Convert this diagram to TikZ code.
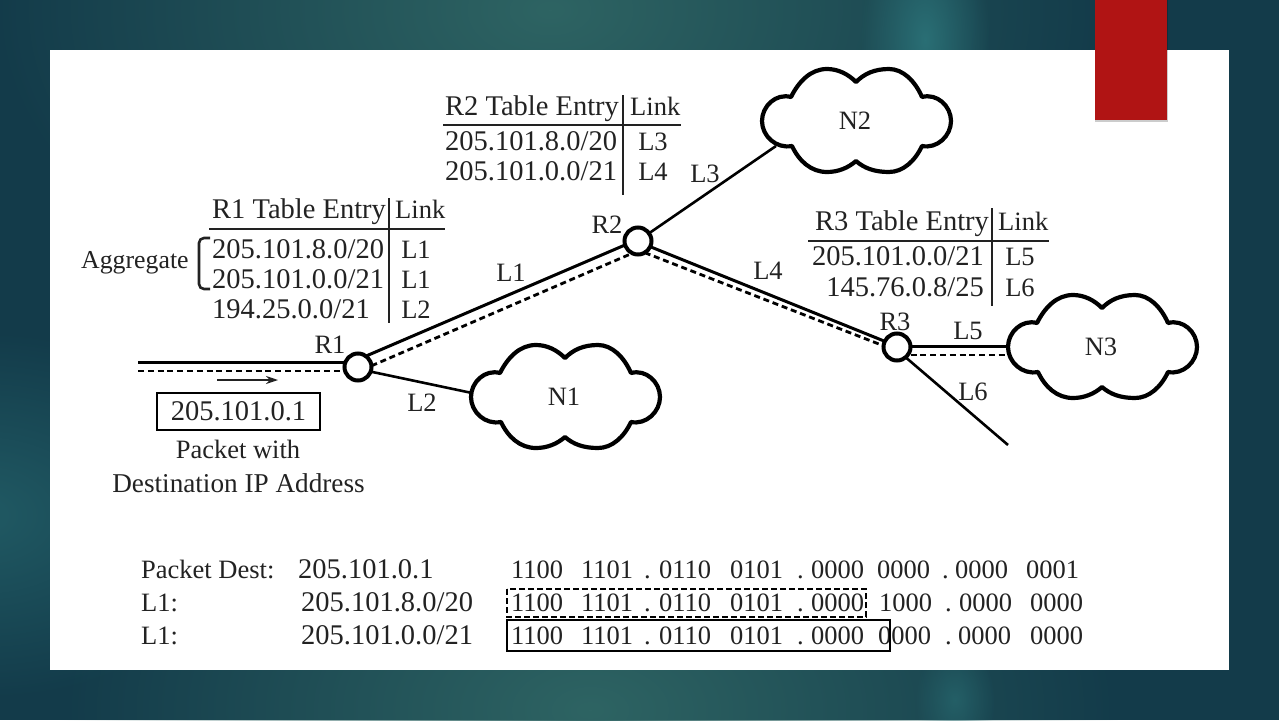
\documentclass[tikz,border=0pt]{standalone}
\usepackage{fontspec}
\setmainfont{Liberation Serif}
\usetikzlibrary{fadings,arrows.meta}
\tikzfading[name=glow, inner color=transparent!0, outer color=transparent!100]
\tikzfading[name=softglow, inner color=transparent!40, outer color=transparent!100]
\definecolor{bgdark}{HTML}{133B4A}
\definecolor{bgteal}{HTML}{2E6463}
\definecolor{bgglow}{HTML}{2A6F75}
\definecolor{ink}{HTML}{222222}
\definecolor{tabred}{HTML}{B01414}
\tikzset{
  txt/.style={inner sep=0pt,text=ink,font=\fontsize{28.5}{30}\selectfont,anchor=base west},
  txtc/.style={txt,anchor=base},
  txtr/.style={txt,anchor=base east},
  lbl/.style={inner sep=0pt,text=ink,font=\fontsize{26.5}{30}\selectfont,anchor=base},
  lblw/.style={lbl,anchor=base west},
  bin/.style={inner sep=0pt,text=ink,font=\fontsize{26.5}{30}\selectfont,anchor=base west},
  rule/.style={line width=2.6pt,draw=ink},
  router/.style={circle,draw=black,line width=4pt,fill=white,minimum size=27pt,inner sep=0pt,outer sep=0pt},
  link/.style={line width=3pt,draw=black},
  thin link/.style={line width=2.6pt,draw=black},
  dash link/.style={line width=2.8pt,draw=black,dash pattern=on 6pt off 3.8pt},
  cloudline/.style={line width=4.2pt,draw=black,fill=white,line join=round}
}
\newcommand{\cloudat}[3]{%
  \begin{scope}[shift={(#1,#2)}]
  \path[cloudline] (0,-39)
   .. controls (-8,-47) and (-18,-52) .. (-29,-52)
   .. controls (-45,-52) and (-57,-40) .. (-65,-24)
   .. controls (-80,-28) and (-94,-15) .. (-94,0)
   .. controls (-94,15) and (-80,28) .. (-64,25)
   .. controls (-57,40) and (-45,51) .. (-29,51)
   .. controls (-18,51) and (-8,47) .. (0,40)
   .. controls (8,47) and (18,51) .. (33,51)
   .. controls (47,51) and (59,40) .. (66,25)
   .. controls (81,28) and (95,15) .. (95,0)
   .. controls (95,-15) and (81,-28) .. (66,-24)
   .. controls (59,-40) and (47,-52) .. (33,-52)
   .. controls (18,-52) and (8,-47) .. (0,-39) -- cycle;
  \node[lbl,anchor=center] (#3) at (-1,0) {#3};
  \end{scope}}
\begin{document}
\begin{tikzpicture}[x=1pt,y=-1pt]
\useasboundingbox (0,0) rectangle (1279,720);
% background
\fill[bgdark] (0,0) rectangle (1279,720);
\begin{scope}
\clip (0,0) rectangle (1279,720);
\fill[bgteal,path fading=glow] (-10,-330) rectangle (1110,350);
\fill[bgteal,path fading=glow] (60,390) rectangle (1120,1030);
\fill[bgglow,path fading=softglow] (-300,330) rectangle (260,700);
\fill[bgglow,path fading=glow] (860,-90) rectangle (990,170);
\fill[bgglow,path fading=softglow] (915,640) rectangle (995,760);
\end{scope}
\fill[white] (50,50) rectangle (1229,670);
\fill[black,opacity=.2] (1095,0) rectangle (1168,122);
\fill[tabred] (1095,0) rectangle (1167,120);
% clouds
\cloudat{565}{397}{N1}
\cloudat{856}{121}{N2}
\cloudat{1102}{347}{N3}
% routers
\node[router] (R1) at (358,367) {};
\node[router] (R2) at (638,241) {};
\node[router] (R3) at (897,347) {};
% free ends
\coordinate (in1) at (138,362);
\coordinate (in2) at (138,371);
\coordinate (n1a) at (472,393);
\coordinate (n2a) at (776,146);
\coordinate (n3a) at (1008,346);
\coordinate (n3b) at (1008,355);
\coordinate (l6e) at (1008,445);
% connectors
\draw[link] (in1) -- (in1 -| R1.west);
\draw[dash link] (in2) -- (in2 -| R1.west);
\draw[link] (R1.54) -- (R2.197);
\draw[dash link] (R1.5) -- (R2.245);
\draw[thin link] (R1.-20) -- (n1a);
\draw[thin link] (R2.35) -- (n2a);
\draw[link] (R2.-25) -- (R3.155);
\draw[dash link] (R2.-60) -- (R3.175);
\draw[link] (n3a -| R3.east) -- (n3a);
\draw[dash link] (n3b -| R3.east) -- (n3b);
\draw[thin link] (R3.-50) -- (l6e);
% packet
\coordinate (pa) at (217,380);
\coordinate (pb) at (278,380);
\draw[line width=1.4pt,draw=ink,-{Stealth[length=12pt,width=8pt]}] (pa) -- (pb);
\node[draw=black,line width=2.4pt,minimum width=163pt,minimum height=37pt,inner sep=0pt,text=ink,font=\fontsize{28.5}{30}\selectfont] (pkt) at (238.5,411.5) {205.101.0.1};
\node[lbl] (pw) at (238,458) {Packet with};
\node[lbl,font=\fontsize{27.2}{30}\selectfont] (pd) at (238.5,492) {Destination IP Address};
% labels
\node[lbl] (lR1) at (330,353) {R1};
\node[lbl] (lR2) at (607,233) {R2};
\node[lbl] (lR3) at (895,330) {R3};
\node[lbl] (lL1) at (511,281) {L1};
\node[lbl] (lL2) at (422,411) {L2};
\node[lbl] (lL3) at (705,182) {L3};
\node[lbl] (lL4) at (768,279) {L4};
\node[lbl] (lL5) at (968,339) {L5};
\node[lbl] (lL6) at (973,400) {L6};
% R1 table
\draw[rule] (389,198) -- (389,323);
\draw[rule] (209,229) -- (445,229);
\node[txt] (t1h) at (212,218) {R1 Table Entry};
\node[lblw] (t1l) at (395,218) {Link};
\node[txt] (t1a) at (212,258) {205.101.8.0/20};
\node[txt] (t1b) at (212,288) {205.101.0.0/21};
\node[txt] (t1c) at (212,318) {194.25.0.0/21};
\node[lbl] (t1d) at (416,258) {L1};
\node[lbl] (t1e) at (416,288) {L1};
\node[lbl] (t1f) at (416,318) {L2};
\node[lblw,font=\fontsize{25.8}{30}\selectfont] (agg) at (81,268) {Aggregate};
\draw[line width=2.6pt,draw=ink,rounded corners=5pt] (210,238) -- (199,238) -- (199,289) -- (210,289);
% R2 table
\draw[rule] (623,95) -- (623,195);
\draw[rule] (443,125) -- (681,125);
\node[txt] (t2h) at (445,115) {R2 Table Entry};
\node[lblw] (t2l) at (630,115) {Link};
\node[txt] (t2a) at (445,150) {205.101.8.0/20};
\node[txt] (t2b) at (445,180) {205.101.0.0/21};
\node[lbl] (t2c) at (653,150) {L3};
\node[lbl] (t2d) at (653,180) {L4};
% R3 table
\draw[rule] (992,208) -- (992,306);
\draw[rule] (808,241) -- (1049,241);
\node[txt] (t3h) at (815,230) {R3 Table Entry};
\node[lblw] (t3l) at (998,230) {Link};
\node[txtr] (t3a) at (984,265) {205.101.0.0/21};
\node[txtr] (t3b) at (984,296) {145.76.0.8/25};
\node[lbl] (t3c) at (1020,265) {L5};
\node[lbl] (t3d) at (1020,296) {L6};
% bottom
\node[lblw] (b1) at (141,578) {Packet Dest:};
\node[txt] (b2) at (298,578) {205.101.0.1};
\node[lblw] (b3) at (141,611) {L1:};
\node[txt] (b4) at (301,611) {205.101.8.0/20};
\node[lblw] (b5) at (141,644) {L1:};
\node[txt] (b6) at (301,644) {205.101.0.0/21};
% binary rows
\foreach \nm/\x/\s in {a/511/1100,b/581/1101,c/644/.,d/659/0110,e/730/0101,f/797/.,g/811/0000,h/877/0000,i/942/.,j/955/0000,k/1026/0001}
  \node[bin] (ra\nm) at (\x,578) {\s};
\foreach \nm/\x/\s in {a/511/1100,b/581/1101,c/644/.,d/659/0110,e/730/0101,f/797/.,g/811/0000,h/879/1000,i/945/.,j/959/0000,k/1030/0000}
  \node[bin] (rb\nm) at (\x,611) {\s};
\foreach \nm/\x/\s in {a/511/1100,b/581/1101,c/644/.,d/659/0110,e/730/0101,f/797/.,g/811/0000,h/878/0000,i/945/.,j/958/0000,k/1030/0000}
  \node[bin] (rc\nm) at (\x,644) {\s};
\coordinate (d1) at (507,589);
\coordinate (d2) at (866,617);
\coordinate (s1) at (507,620);
\coordinate (s2) at (890,651);
\draw[line width=2.2pt,draw=black,dash pattern=on 6pt off 3pt] (d1) rectangle (d2);
\draw[line width=2.2pt,draw=black] (s1) rectangle (s2);
\end{tikzpicture}
\end{document}
